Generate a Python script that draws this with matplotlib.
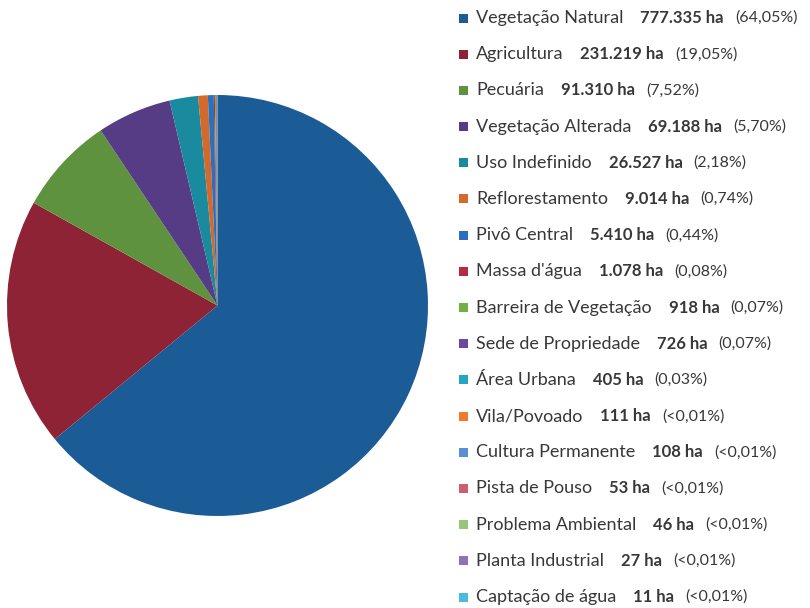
import matplotlib
matplotlib.use("Agg")
import matplotlib.pyplot as plt
from matplotlib.patches import Rectangle

# uso do solo
categorias = ["Vegetação Natural", "Agricultura", "Pecuária", "Vegetação Alterada",
              "Uso Indefinido", "Reflorestamento", "Pivô Central", "Massa d'água",
              "Barreira de Vegetação", "Sede de Propriedade", "Área Urbana",
              "Vila/Povoado", "Cultura Permanente", "Pista de Pouso",
              "Problema Ambiental", "Planta Industrial", "Captação de água"]
hectares = [777335, 231219, 91310, 69188, 26527, 9014, 5410, 1078,
            918, 726, 405, 111, 108, 53, 46, 27, 11]
hectares_txt = ["777.335 ha", "231.219 ha", "91.310 ha", "69.188 ha", "26.527 ha",
                "9.014 ha", "5.410 ha", "1.078 ha", "918 ha", "726 ha", "405 ha",
                "111 ha", "108 ha", "53 ha", "46 ha", "27 ha", "11 ha"]
percentuais = ["(64,05%)", "(19,05%)", "(7,52%)", "(5,70%)", "(2,18%)", "(0,74%)",
               "(0,44%)", "(0,08%)", "(0,07%)", "(0,07%)", "(0,03%)", "(<0,01%)",
               "(<0,01%)", "(<0,01%)", "(<0,01%)", "(<0,01%)", "(<0,01%)"]

cores = ["#1b5b96", "#8e2336", "#5f923f", "#553c85", "#1a8a9e", "#d3692a",
         "#2a6fc0", "#b52a42", "#73b043", "#6a4a9e", "#23a5c4", "#ef7a2a",
         "#5b8fd3", "#cf5d70", "#96c777", "#8c73b8", "#4dbad8"]

W, H = 810, 608
fig = plt.figure(figsize=(W / 100, H / 100), dpi=100)
plt.rcParams["font.family"] = ["Lato", "DejaVu Sans"]

# pizza
ax = fig.add_axes([7 / W, 91 / H, 421 / W, 423 / H])
ax.pie(hectares, colors=cores, startangle=90, counterclock=False, radius=1,
       wedgeprops=dict(linewidth=0))
ax.set_xlim(-1, 1)
ax.set_ylim(-1, 1)
ax.set_aspect("equal")
ax.axis("off")

# legenda feita a mao (nome + area + percentual)
renderer = fig.canvas.get_renderer()
y0, dy = 18, 36.19
cor_txt = "#383838"
for i in range(len(categorias)):
    yc = y0 + i * dy
    yf = 1 - yc / H
    fig.patches.append(Rectangle(((463 - 4.5) / W, yf - 4.5 / H), 9 / W, 9 / H,
                                 transform=fig.transFigure, facecolor=cores[i],
                                 edgecolor="none"))
    t1 = fig.text(476 / W, yf, categorias[i], fontsize=13, color=cor_txt, va="center")
    x1 = t1.get_window_extent(renderer).x1
    t2 = fig.text((x1 + 17) / W, yf, hectares_txt[i], fontsize=12, fontweight="bold",
                  color=cor_txt, va="center")
    x2 = t2.get_window_extent(renderer).x1
    fig.text((x2 + 11) / W, yf, percentuais[i], fontsize=11.5, color=cor_txt, va="center")

fig.savefig("out.png", dpi=100)
